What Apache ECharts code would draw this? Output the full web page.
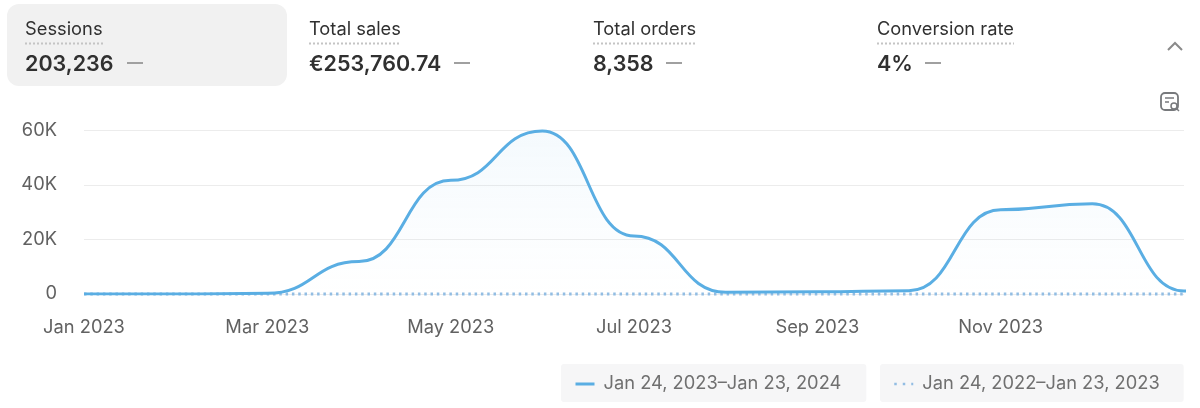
<!DOCTYPE html>
<html>
<head>
<meta charset="UTF-8">
<title>Sessions</title>
<script src="https://cdn.jsdelivr.net/npm/echarts@6/dist/echarts.min.js"></script>
<style>
  html, body { margin: 0; padding: 0; background: #fff; }
  #main { width: 1200px; height: 408px; }
</style>
</head>
<body>
<div id="main"></div>
<script>
// last month sits past the axis end, only there so the curve lands flat on Jan 2024
var months = ['Jan 2023', 'Feb 2023', 'Mar 2023', 'Apr 2023', 'May 2023', 'Jun 2023', 'Jul 2023',
              'Aug 2023', 'Sep 2023', 'Oct 2023', 'Nov 2023', 'Dec 2023', 'Jan 2024', 'Feb 2024'];
var current = [0, 0, 250, 11900, 41700, 59800, 21300, 620, 800, 1200, 30900, 33100, 1100, 1100];
var previous = [0, 0, 0, 0, 0, 0, 0, 0, 0, 0, 0, 0, 0];
var currentName = 'Jan 24, 2023\u2013Jan 23, 2024';
var previousName = 'Jan 24, 2022\u2013Jan 23, 2023';
var metricTitles = ['Sessions', 'Total sales', 'Total orders', 'Conversion rate'];
var metricValues = ['203,236', '\u20ac253,760.74', '8,358', '4%'];

var FONT = 'Inter, "Noto Sans", sans-serif';
var BLUE = '#5aaee3';
var DOTS = '#92bde3';
var metricX = [25, 309, 593, 877];
var underlineW = [78, 92, 103, 137];
var dashX = [127, 454, 666, 925];

var myChart = echarts.init(document.getElementById('main'));

// header cards
var gfx = [{
    type: 'rect',
    shape: { x: 7, y: 4, width: 280, height: 82, r: 12 },
    style: { fill: '#f1f1f1' }
}];
metricTitles.forEach(function (t, i) {
    gfx.push({ type: 'text', x: metricX[i], y: 21, style: { text: t, font: '400 18.3px ' + FONT, fill: '#303030' } });
    gfx.push({
        type: 'line',
        shape: { x1: metricX[i], y1: 43.5, x2: metricX[i] + underlineW[i], y2: 43.5 },
        style: { stroke: '#c4c4c4', lineWidth: 2, lineDash: [2, 2] }
    });
    gfx.push({ type: 'text', x: metricX[i], y: 54, style: { text: metricValues[i], font: '600 21.5px ' + FONT, fill: '#303030' } });
    gfx.push({
        type: 'line',
        shape: { x1: dashX[i], y1: 63, x2: dashX[i] + 16, y2: 63 },
        style: { stroke: '#a0a0a0', lineWidth: 2 }
    });
});
// collapse chevron
gfx.push({
    type: 'polyline',
    shape: { points: [[1168, 50], [1175, 43], [1182, 50]] },
    style: { stroke: '#8a8a8a', fill: null, lineWidth: 2 }
});
// small report icon
gfx.push({
    type: 'rect',
    shape: { x: 1161, y: 93, width: 17, height: 17, r: 4 },
    style: { stroke: '#77797c', fill: '#fff', lineWidth: 1.8 }
});
gfx.push({
    type: 'line',
    shape: { x1: 1165, y1: 98, x2: 1174, y2: 98 },
    style: { stroke: '#77797c', lineWidth: 1.5 }
});
gfx.push({
    type: 'line',
    shape: { x1: 1165, y1: 102, x2: 1169, y2: 102 },
    style: { stroke: '#77797c', lineWidth: 1.5 }
});
gfx.push({
    type: 'circle',
    shape: { cx: 1174, cy: 106, r: 3 },
    style: { stroke: '#77797c', fill: '#fff', lineWidth: 1.5 }
});
gfx.push({
    type: 'line',
    shape: { x1: 1176, y1: 108, x2: 1179, y2: 111 },
    style: { stroke: '#77797c', lineWidth: 1.5 }
});

var option = {
    animation: false,
    textStyle: { fontFamily: FONT },
    grid: { left: 84, right: 16, top: 130.5, height: 163.5 },
    xAxis: {
        type: 'category',
        boundaryGap: false,
        data: months,
        max: 12,
        axisLine: { show: false },
        axisTick: { show: false },
        axisLabel: {
            color: '#616161',
            fontSize: 18.3,
            margin: 25,
            interval: function (i) { return i % 2 === 0 && i < 12; }
        }
    },
    yAxis: {
        type: 'value',
        min: 0,
        max: 60000,
        interval: 20000,
        axisLabel: {
            color: '#616161',
            fontSize: 18.3,
            margin: 27,
            formatter: function (v) { return v === 0 ? '0' : v / 1000 + 'K'; }
        },
        splitLine: { lineStyle: { color: '#ececec', width: 1 } }
    },
    legend: [{
        data: [currentName],
        left: 561,
        top: 364,
        padding: [11, 25, 9, 13],
        backgroundColor: '#f6f6f7',
        borderRadius: 3,
        itemWidth: 19,
        itemHeight: 4,
        itemGap: 0,
        itemStyle: { opacity: 0 },
        lineStyle: { width: 3 },
        textStyle: { color: '#707070', fontSize: 18.3, padding: [0, 0, 0, 4] }
    }, {
        data: [previousName],
        left: 880,
        top: 364,
        padding: [11, 24, 9, 13],
        backgroundColor: '#f6f6f7',
        borderRadius: 3,
        itemWidth: 19,
        itemHeight: 4,
        itemGap: 0,
        itemStyle: { opacity: 0 },
        lineStyle: { width: 2.5, type: [2.5, 6] },
        textStyle: { color: '#707070', fontSize: 18.3, padding: [0, 0, 0, 4] }
    }],
    series: [{
        name: previousName,
        type: 'line',
        data: previous,
        symbol: 'none',
        clip: false,
        lineStyle: { color: DOTS, width: 3, type: [2.5, 3.8] },
        itemStyle: { color: DOTS }
    }, {
        name: currentName,
        type: 'line',
        data: current,
        symbol: 'none',
        smooth: 0.5,
        smoothMonotone: 'x',
        lineStyle: { color: BLUE, width: 3 },
        itemStyle: { color: BLUE },
        areaStyle: {
            color: new echarts.graphic.LinearGradient(0, 0, 0, 1, [
                { offset: 0, color: 'rgba(90,174,227,0.09)' },
                { offset: 1, color: 'rgba(90,174,227,0)' }
            ])
        }
    }],
    graphic: gfx
};

myChart.setOption(option);
</script>
</body>
</html>
